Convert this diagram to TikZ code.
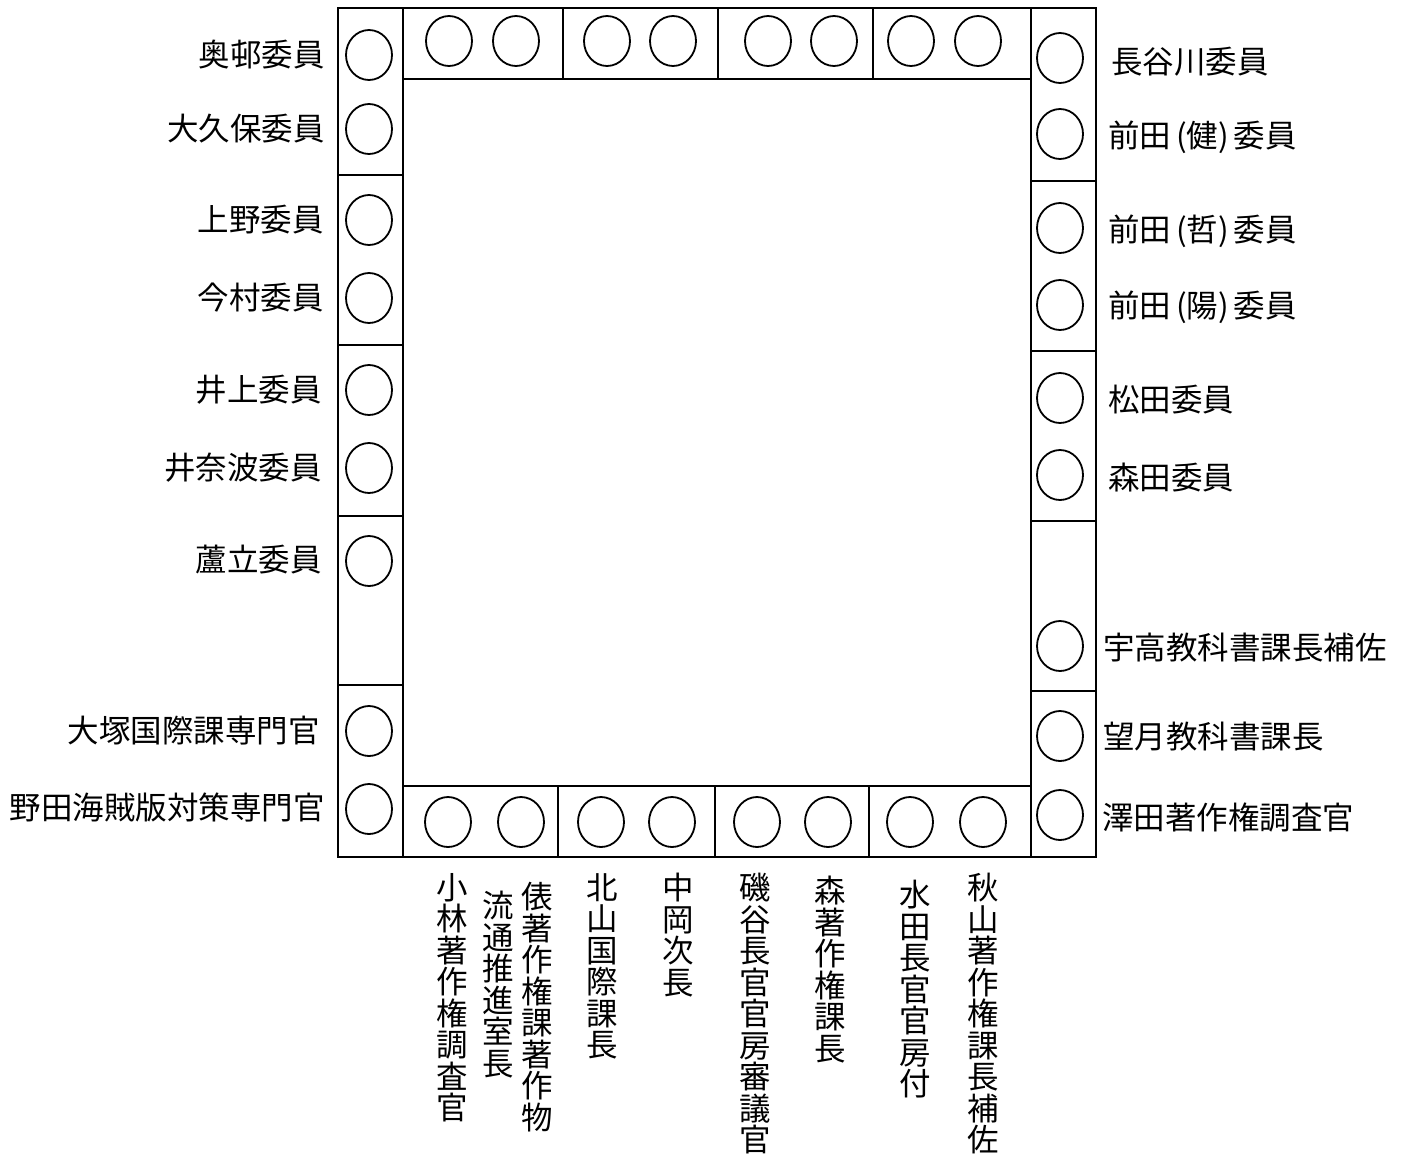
\documentclass[tikz,border=0pt]{standalone}
\usepackage{fontspec}
\newfontfamily\jp{Noto Sans CJK JP}
\usetikzlibrary{shapes.geometric}
\begin{document}
\begin{tikzpicture}[x=1pt,y=-1pt,
  frame/.style={line width=2.3pt, line join=miter},
  seat/.style={draw, ellipse, line width=1.8pt, minimum width=46pt, minimum height=50pt, inner sep=0pt},
  lbl/.style={font=\jp\fontsize{31.5}{31.5}\selectfont, inner sep=0pt},
  llbl/.style={lbl, anchor=east},
  rlbl/.style={lbl, anchor=west},
  vlbl/.style={lbl, anchor=north, align=center}]
\useasboundingbox (0,0) rectangle (1405,1162);
% frame
\draw[frame] (338,8) rectangle (1096,857);
\draw[frame] (403,79) rectangle (1031,786);
\draw[frame] (403,8) -- (403,857);
\draw[frame] (1031,8) -- (1031,857);
% left column dividers
\foreach \y in {175,345,516,685} \draw[frame] (338,\y) -- (403,\y);
% right column dividers
\foreach \y in {181,351,521,691} \draw[frame] (1031,\y) -- (1096,\y);
% top row dividers
\foreach \x in {563,718,873} \draw[frame] (\x,8) -- (\x,79);
% bottom row dividers
\foreach \x in {558,715,869} \draw[frame] (\x,786) -- (\x,857);
% left seats
\foreach \y [count=\i] in {55,129,220,298,390,468,561,731,809}
  \node[seat] (L\i) at (369,\y) {};
% right seats
\foreach \y [count=\i] in {58,134,228,305,398,475,646,736,815}
  \node[seat] (R\i) at (1060,\y) {};
% top seats
\foreach \x [count=\i] in {449,516,607,673,768,834,911,978}
  \node[seat] (T\i) at (\x,41) {};
% bottom seats
\foreach \x [count=\i] in {448,521,601,672,757,828,910,983}
  \node[seat] (B\i) at (\x,822) {};
% left labels
\node[llbl] (l1) at (325,55) {奥邨委員};
\node[llbl] (l2) at (325,129) {大久保委員};
\node[llbl] (l3) at (324,220) {上野委員};
\node[llbl] (l4) at (324,298) {今村委員};
\node[llbl] (l5) at (322,390) {井上委員};
\node[llbl] (l6) at (322,468) {井奈波委員};
\node[llbl] (l7) at (322,560) {蘆立委員};
\node[llbl] (l8) at (320,731) {大塚国際課専門官};
\node[llbl] (l9) at (325,808) {野田海賊版対策専門官};
% right labels
\node[rlbl] (r1) at (1111,62) {長谷川委員};
\node[rlbl] (r2) at (1108,137) {前田\hspace{5pt}(健)\hspace{5pt}委員};
\node[rlbl] (r3) at (1108,231) {前田\hspace{5pt}(哲)\hspace{5pt}委員};
\node[rlbl] (r4) at (1108,307) {前田\hspace{5pt}(陽)\hspace{5pt}委員};
\node[rlbl] (r5) at (1108,400) {松田委員};
\node[rlbl] (r6) at (1108,478) {森田委員};
\node[rlbl] (r7) at (1103,648) {宇高教科書課長補佐};
\node[rlbl] (r8) at (1103,737) {望月教科書課長};
\node[rlbl] (r9) at (1102,818) {澤田著作権調査官};
% bottom vertical labels
\node[vlbl] (b1) at (452,873) {小\\林\\著\\作\\権\\調\\査\\官};
\node[vlbl] (b2) at (498,891) {流\\通\\推\\進\\室\\長};
\node[vlbl] (b3) at (537,882) {俵\\著\\作\\権\\課\\著\\作\\物};
\node[vlbl] (b4) at (602,873) {北\\山\\国\\際\\課\\長};
\node[vlbl] (b5) at (678,873) {中\\岡\\次\\長};
\node[vlbl] (b6) at (755,873) {磯\\谷\\長\\官\\官\\房\\審\\議\\官};
\node[vlbl] (b7) at (830,876) {森\\著\\作\\権\\課\\長};
\node[vlbl] (b8) at (915,880) {水\\田\\長\\官\\官\\房\\付};
\node[vlbl] (b9) at (983,873) {秋\\山\\著\\作\\権\\課\\長\\補\\佐};
\end{tikzpicture}
\end{document}
